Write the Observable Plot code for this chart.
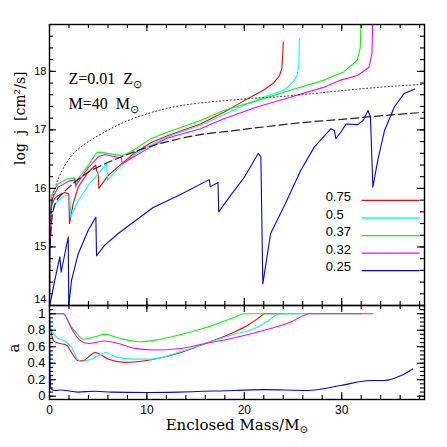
<!DOCTYPE html>
<html><head><meta charset="utf-8">
<script src="https://cdn.jsdelivr.net/npm/d3@7"></script>
<script src="https://cdn.jsdelivr.net/npm/@observablehq/plot@0.6"></script>
<style>
body{margin:0;background:#fff}
#chart{position:relative;width:447px;height:447px;overflow:hidden}
#chart svg{position:absolute;left:0;overflow:visible;background:transparent}
</style></head><body><div id="chart"></div>
<script>
// ---- data ----
const seriesKeys = ["0.75", "0.5", "0.37", "0.32", "0.25"];
const seriesColors = ["#ff0000", "#00ffff", "#00ff00", "#ff00ff", "#0000ff"];

// log j vs enclosed mass (top panel)
const j075 = [[0,14.0],[0.05,15.0],[0.2,15.71],[0.5,15.82],[0.88,15.88],[1.57,15.93],[1.98,15.91],[2.05,15.40],[2.43,15.74],[2.94,16.02],[3.97,16.28],[4.75,16.40],[4.85,16.30],[5.0,16.25],[5.07,16.0],[6.02,16.22],[7.4,16.42],[8.7,16.6],[10.4,16.78],[12.1,16.9],[15.5,17.1],[17.9,17.3],[20,17.5],[22,17.68],[23.0,17.8],[23.6,17.92],[23.85,18.05],[23.95,18.3],[24.0,18.5]];
const j050 = [[0,14.0],[0.05,14.9],[0.2,15.65],[0.88,15.79],[1.57,15.88],[2.08,15.87],[2.2,15.51],[2.94,15.79],[3.97,16.05],[5.0,16.25],[5.86,16.42],[5.95,16.14],[6.7,16.28],[7.56,16.42],[8.7,16.57],[10.4,16.74],[12.1,16.88],[15.5,17.08],[17.9,17.26],[20,17.42],[22,17.56],[24.1,17.68],[25.0,17.82],[25.4,17.92],[25.6,18.1],[25.65,18.56]];
const j037 = [[0,14.1],[0.05,15.1],[0.2,15.88],[0.88,16.08],[1.92,16.17],[2.6,16.18],[2.67,16.02],[2.94,16.17],[3.97,16.39],[4.83,16.61],[5.17,16.62],[7.4,16.56],[8.4,16.63],[10.4,16.85],[12.1,16.96],[15.5,17.16],[17.9,17.33],[21.3,17.5],[24.8,17.68],[28.2,17.85],[30.2,17.99],[31.6,18.19],[31.9,18.4],[32.0,18.9]];
const j032 = [[0,14.0],[0.05,15.0],[0.2,15.8],[0.88,16.02],[1.92,16.12],[2.6,16.15],[2.7,16.05],[3.0,16.12],[3.97,16.35],[5.0,16.54],[5.68,16.58],[7.4,16.52],[7.46,16.42],[8.36,16.51],[10.4,16.71],[12.1,16.86],[15.5,17.02],[17.9,17.19],[21.3,17.39],[24.8,17.56],[28.2,17.73],[29.9,17.85],[31.6,17.93],[32.8,18.07],[33.1,18.3],[33.2,18.9]];
const j025 = [[0.03,14.0],[0.54,14.43],[1.06,14.83],[1.2,14.57],[1.57,14.88],[1.92,15.17],[1.98,14.0],[2.26,14.43],[2.94,14.88],[3.97,15.28],[4.76,15.51],[4.83,14.85],[5.68,15.03],[7.05,15.23],[8.43,15.4],[10.6,15.67],[13.5,15.9],[16.4,16.15],[16.5,16.03],[17.3,16.1],[17.37,15.6],[18.6,15.88],[20,16.19],[21.44,16.6],[21.7,16.54],[21.9,14.37],[22.7,15.23],[24.1,15.7],[25.8,16.31],[27.2,16.71],[28.9,17.02],[29.25,16.99],[29.4,16.85],[29.9,16.96],[30.45,17.1],[31.65,17.09],[32.2,17.16],[32.7,17.33],[32.95,17.22],[33.2,16.02],[33.7,16.48],[34.4,16.99],[35.4,17.39],[36.4,17.62],[37.5,17.7]];
const jSeries = [j075, j050, j037, j032, j025];

// reference curves
const jDotted = [[0.1,15.45],[0.3,15.8],[0.6,16.02],[1.0,16.2],[1.5,16.37],[2.0,16.5],[3.0,16.68],[4.0,16.8],[5.3,16.93],[7.0,17.08],[8.7,17.2],[10.5,17.3],[12.1,17.37],[15.5,17.46],[18,17.5],[21,17.54],[23.8,17.57],[27,17.62],[30,17.67],[34,17.73],[38.5,17.78]];
const jDashed = [[0.05,15.0],[0.2,15.4],[0.5,15.7],[1.0,15.85],[1.5,15.94],[2.6,16.11],[4.0,16.28],[5.7,16.42],[8.0,16.58],[10,16.7],[12.1,16.8],[15.5,16.92],[18,16.97],[21,17.03],[24,17.09],[27,17.14],[30,17.18],[34,17.24],[38.5,17.3]];

// a vs enclosed mass (bottom panel)
const a075 = [[0,1.0],[0.05,0.9],[0.2,0.76],[0.54,0.66],[1.06,0.64],[1.75,0.62],[2.26,0.53],[2.94,0.43],[3.45,0.43],[4.14,0.49],[4.66,0.53],[5.17,0.51],[6.0,0.45],[7.74,0.41],[9.8,0.43],[13.2,0.52],[16,0.64],[18.65,0.76],[20.35,0.86],[21.9,0.99],[22.0,1.0],[24.0,1.0]];
const a050 = [[0,1.0],[0.05,0.9],[0.2,0.80],[0.88,0.70],[1.57,0.67],[2.26,0.59],[2.77,0.47],[3.29,0.42],[4.3,0.45],[5.86,0.53],[6.7,0.48],[8.43,0.45],[10.5,0.45],[13.2,0.53],[16,0.64],[18.65,0.74],[21.4,0.84],[23.3,0.99],[23.4,1.0],[25.65,1.0]];
const a037 = [[0,1.0],[1.4,1.0],[2.26,0.84],[2.94,0.74],[3.45,0.69],[4.66,0.72],[5.68,0.75],[6.7,0.72],[8.1,0.68],[9.45,0.66],[10.8,0.68],[13.2,0.74],[16.0,0.83],[19.05,0.96],[20.0,1.0],[32.0,1.0]];
const a032 = [[0,1.0],[1.4,1.0],[2.26,0.82],[3.1,0.68],[3.97,0.64],[5.68,0.67],[7.05,0.64],[8.77,0.58],[10.8,0.56],[13.2,0.575],[16,0.64],[18.65,0.70],[22.05,0.80],[24.8,0.90],[26.7,1.0],[33.2,1.0]];
const a025 = [[0,1.0],[0.05,0.3],[0.15,0.09],[0.54,0.07],[1.1,0.075],[2.94,0.05],[4.66,0.06],[6.37,0.05],[9.8,0.045],[13.2,0.05],[19,0.07],[22.05,0.08],[26.5,0.07],[29.9,0.13],[33,0.19],[34.4,0.19],[36.1,0.25],[37.3,0.33]];
const aSeries = [a075, a050, a037, a032, a025];

// axis ticks
const xLabelTicks = [0, 10, 20, 30];
const jLabelTicks = [14, 15, 16, 17, 18];
const aLabelTicks = [0, 0.2, 0.4, 0.6, 0.8, 1];
const annotations = ["Z=0.01  Z⊙", "M=40  M⊙"];

// ---- build tables ----
const toRows = (arr, key) => arr.map(([m, v]) => ({key, m, v}));
const jRows = jSeries.flatMap((s, i) => toRows(s, seriesKeys[i]));
const aRows = aSeries.flatMap((s, i) => toRows(s, seriesKeys[i]));
const legendRows = seriesKeys.map((k, i) => ({k, i}));
const color = {domain: seriesKeys, range: seriesColors};

const xMinor = d3.range(0, 38.6, 2);
const xMajor = d3.range(0, 38.6, 10);
const jMinor = d3.range(14, 18.81, 0.2).map(d => +d.toFixed(2));
const aMinor = d3.range(0, 1.101, 0.05).map(d => +d.toFixed(2));

const serif = "DejaVu Serif, serif";
const sans = "Liberation Sans, Arial, Helvetica, sans-serif";

const ML = 49, MR = 23, W = 447;
const PW = W - ML - MR;

// inward ticks on all four sides, drawn with tick marks inset to a short length
function frameTicks(xs, ys, H, L) {
  return [
    Plot.tickX(xs, {x: d => d, insetTop: H - L, strokeWidth: 1.1}),
    Plot.tickX(xs, {x: d => d, insetBottom: H - L, strokeWidth: 1.1}),
    Plot.tickY(ys, {y: d => d, insetRight: PW - L, strokeWidth: 1.1}),
    Plot.tickY(ys, {y: d => d, insetLeft: PW - L, strokeWidth: 1.1})
  ];
}

const TH = 305 - 24;
const topPlot = Plot.plot({
  width: W, height: 305,
  marginTop: 24, marginBottom: 0, marginLeft: ML, marginRight: MR,
  x: {domain: [0, 38.5], axis: null},
  y: {domain: [14, 18.8]},
  color,
  style: {fontFamily: sans, fontSize: "11px", background: "transparent", overflow: "visible"},
  marks: [
    Plot.line(jRows.filter(d => d.key !== "0.25"), {x: "m", y: "v", z: "key", stroke: "key", strokeWidth: 1.1, clip: true}),
    Plot.line(jDotted, {x: d => d[0], y: d => d[1], stroke: "#222", strokeWidth: 1, strokeDasharray: "1,2.6", curve: "monotone-x"}),
    Plot.line(jDashed, {x: d => d[0], y: d => d[1], stroke: "#222", strokeWidth: 1.2, strokeDasharray: "8,4", curve: "monotone-x"}),
    Plot.line(jRows.filter(d => d.key === "0.25"), {x: "m", y: "v", stroke: "key", strokeWidth: 1.1, clip: true}),
    ...frameTicks(xMinor, jMinor, TH, 4),
    ...frameTicks(xMajor, jLabelTicks, TH, 7),
    Plot.axisY({anchor: "left", ticks: jLabelTicks.slice(1), tickSize: 0, tickPadding: 3, label: null, fontSize: 11, tickFormat: d => String(d)}),
    Plot.axisY({anchor: "left", ticks: jLabelTicks.slice(0, 1), tickSize: 0, tickPadding: 3, dy: -6, label: null, fontSize: 11, tickFormat: d => String(d)}),
    Plot.frame({strokeWidth: 1.4}),
    Plot.text(["log  j  [cm²/s]"], {frameAnchor: "left", dx: -29, rotate: -90, fontFamily: serif, fontSize: 14}),
    Plot.text(annotations, {frameAnchor: "top-left", textAnchor: "start", fontFamily: "Liberation Serif, serif", fontSize: 16}),
    Plot.link(legendRows, {x1: () => 32.05, x2: () => 38.0, y1: d => 15.795 - 0.3 * d.i, y2: d => 15.795 - 0.3 * d.i, stroke: d => d.k, strokeWidth: 1.3}),
    Plot.text(legendRows, {x: () => 28.35, y: d => 15.795 - 0.3 * d.i, dy: -3.5, text: "k", textAnchor: "start", fontFamily: sans, fontSize: 13})
  ]
});

const BH = 142 - 48;
const bottomPlot = Plot.plot({
  width: W, height: 142,
  marginTop: 0, marginBottom: 48, marginLeft: ML, marginRight: MR,
  x: {domain: [0, 38.5]},
  y: {domain: [-0.04, 1.1]},
  color,
  style: {fontFamily: sans, fontSize: "12px", background: "transparent", overflow: "visible"},
  marks: [
    Plot.line(aRows, {x: "m", y: "v", z: "key", stroke: "key", strokeWidth: 1.1, curve: "monotone-x"}),
    ...frameTicks(xMinor, aMinor, BH, 4),
    ...frameTicks(xMajor, aLabelTicks, BH, 7),
    Plot.axisY({anchor: "left", ticks: aLabelTicks, tickSize: 0, tickPadding: 4, label: null, fontSize: 13, tickFormat: d => String(d)}),
    Plot.axisX({anchor: "bottom", ticks: xLabelTicks, tickSize: 0, tickPadding: 6, label: null, fontSize: 12, tickFormat: d => String(d)}),
    Plot.frame({strokeWidth: 1.4}),
    Plot.text(["a"], {frameAnchor: "left", dx: -35, rotate: -90, fontFamily: serif, fontSize: 15}),
    Plot.text(["Enclosed Mass/M⊙"], {frameAnchor: "bottom", dy: 30, fontFamily: serif, fontSize: 15})
  ]
});

const chart = document.getElementById("chart");
topPlot.style.top = "0px";
bottomPlot.style.top = "305px";
chart.append(topPlot, bottomPlot);

// place the two annotation lines and subscript the solar symbol
d3.select(topPlot).selectAll("text").each(function() {
  const t = this.textContent;
  if (t === annotations[0]) this.setAttribute("transform", "translate(68,72)");
  if (t === annotations[1]) this.setAttribute("transform", "translate(68,97)");
});
d3.select(chart).selectAll("text").each(function() {
  const t = this.textContent;
  if (t.includes("⊙")) {
    const [a, b] = t.split("⊙");
    this.textContent = "";
    d3.select(this).append("tspan").text(a);
    d3.select(this).append("tspan").attr("dy", "0.35em").attr("font-size", "0.7em").text("⊙" + (b || ""));
  }
});
</script></body></html>
